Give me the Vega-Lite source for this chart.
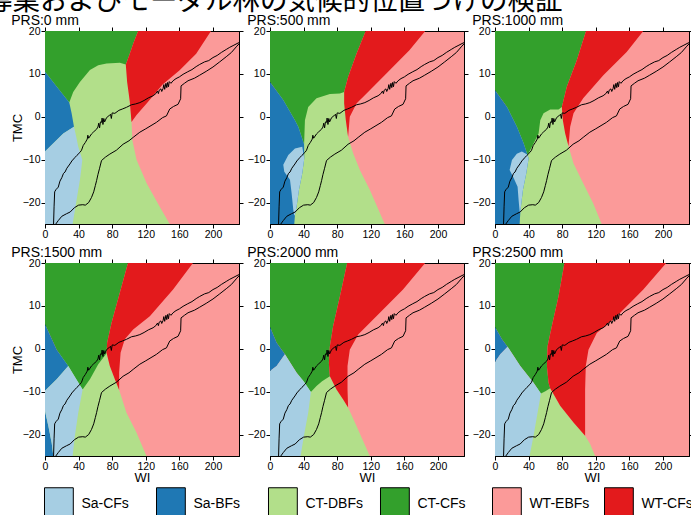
{
"$schema":"https://vega.github.io/schema/vega-lite/v6.json",
"padding":{"left":-15,"top":-12,"right":0,"bottom":0},
"background":"white",
"title":{"text":"導業およびモーダル林の気候的位置づけの検証","font":"Noto Sans CJK JP","fontSize":27.5,"fontWeight":"normal","anchor":"start","frame":"group","dx":-60,"offset":-24.6,"baseline":"alphabetic","color":"black"},
"datasets":{
"reg":[
{"p":0,"c":"CT-DBFs","g":0,"x":-5,"y":13.5},{"p":0,"c":"CT-DBFs","g":0,"x":97,"y":13.5},{"p":0,"c":"CT-DBFs","g":0,"x":100,"y":5},{"p":0,"c":"CT-DBFs","g":0,"x":103,"y":-0.8},{"p":0,"c":"CT-DBFs","g":0,"x":104,"y":-5.4},{"p":0,"c":"CT-DBFs","g":0,"x":109,"y":-10},{"p":0,"c":"CT-DBFs","g":0,"x":121,"y":-15.5},{"p":0,"c":"CT-DBFs","g":0,"x":136.6,"y":-21},{"p":0,"c":"CT-DBFs","g":0,"x":148.5,"y":-25},{"p":0,"c":"CT-DBFs","g":0,"x":150,"y":-27},{"p":0,"c":"CT-DBFs","g":0,"x":-5,"y":-27},
{"p":0,"c":"CT-CFs","g":0,"x":-5,"y":21},{"p":0,"c":"CT-CFs","g":0,"x":112.9,"y":21},{"p":0,"c":"CT-CFs","g":0,"x":105,"y":17},{"p":0,"c":"CT-CFs","g":0,"x":100.2,"y":14.3},{"p":0,"c":"CT-CFs","g":0,"x":96.2,"y":12.2},{"p":0,"c":"CT-CFs","g":0,"x":89.1,"y":12.6},{"p":0,"c":"CT-CFs","g":0,"x":73.3,"y":12.4},{"p":0,"c":"CT-CFs","g":0,"x":63.4,"y":12},{"p":0,"c":"CT-CFs","g":0,"x":53.5,"y":10.9},{"p":0,"c":"CT-CFs","g":0,"x":41.6,"y":8.1},{"p":0,"c":"CT-CFs","g":0,"x":33.6,"y":5.8},{"p":0,"c":"CT-CFs","g":0,"x":28.9,"y":3.35},{"p":0,"c":"CT-CFs","g":0,"x":0,"y":10.5},{"p":0,"c":"CT-CFs","g":0,"x":-5,"y":10.5},
{"p":0,"c":"WT-CFs","g":0,"x":112.9,"y":21},{"p":0,"c":"WT-CFs","g":0,"x":201,"y":21},{"p":0,"c":"WT-CFs","g":0,"x":180,"y":14.7},{"p":0,"c":"WT-CFs","g":0,"x":160,"y":10.8},{"p":0,"c":"WT-CFs","g":0,"x":140,"y":7.5},{"p":0,"c":"WT-CFs","g":0,"x":121,"y":3.1},{"p":0,"c":"WT-CFs","g":0,"x":109,"y":0.4},{"p":0,"c":"WT-CFs","g":0,"x":103,"y":-1.2},{"p":0,"c":"WT-CFs","g":0,"x":101,"y":3.5},{"p":0,"c":"WT-CFs","g":0,"x":97.8,"y":8.1},{"p":0,"c":"WT-CFs","g":0,"x":96.2,"y":12.2},{"p":0,"c":"WT-CFs","g":0,"x":100.2,"y":14.3},{"p":0,"c":"WT-CFs","g":0,"x":105,"y":17},
{"p":0,"c":"Sa-BFs","g":0,"x":-5,"y":10.5},{"p":0,"c":"Sa-BFs","g":0,"x":0,"y":10.5},{"p":0,"c":"Sa-BFs","g":0,"x":28.9,"y":3.35},{"p":0,"c":"Sa-BFs","g":0,"x":31.7,"y":0.8},{"p":0,"c":"Sa-BFs","g":0,"x":34.5,"y":-2.3},{"p":0,"c":"Sa-BFs","g":0,"x":21.8,"y":-3.9},{"p":0,"c":"Sa-BFs","g":0,"x":0,"y":-8.1},{"p":0,"c":"Sa-BFs","g":0,"x":-5,"y":-8.1},
{"p":0,"c":"Sa-CFs","g":0,"x":-5,"y":-8.1},{"p":0,"c":"Sa-CFs","g":0,"x":0,"y":-8.1},{"p":0,"c":"Sa-CFs","g":0,"x":21.8,"y":-3.9},{"p":0,"c":"Sa-CFs","g":0,"x":34.5,"y":-2.3},{"p":0,"c":"Sa-CFs","g":0,"x":37,"y":-4.5},{"p":0,"c":"Sa-CFs","g":0,"x":39.6,"y":-7},{"p":0,"c":"Sa-CFs","g":0,"x":44.4,"y":-10},{"p":0,"c":"Sa-CFs","g":0,"x":43,"y":-12.5},{"p":0,"c":"Sa-CFs","g":0,"x":41.6,"y":-14.7},{"p":0,"c":"Sa-CFs","g":0,"x":37.6,"y":-19.4},{"p":0,"c":"Sa-CFs","g":0,"x":32.9,"y":-25},{"p":0,"c":"Sa-CFs","g":0,"x":32.5,"y":-27},{"p":0,"c":"Sa-CFs","g":0,"x":-5,"y":-27},

{"p":500,"c":"CT-DBFs","g":0,"x":-5,"y":6},{"p":500,"c":"CT-DBFs","g":0,"x":89,"y":6},{"p":500,"c":"CT-DBFs","g":0,"x":90.3,"y":-0.8},{"p":500,"c":"CT-DBFs","g":0,"x":93,"y":-4.65},{"p":500,"c":"CT-DBFs","g":0,"x":99,"y":-8.5},{"p":500,"c":"CT-DBFs","g":0,"x":107,"y":-12.4},{"p":500,"c":"CT-DBFs","g":0,"x":118.8,"y":-17},{"p":500,"c":"CT-DBFs","g":0,"x":136.6,"y":-25},{"p":500,"c":"CT-DBFs","g":0,"x":137,"y":-27},{"p":500,"c":"CT-DBFs","g":0,"x":-5,"y":-27},
{"p":500,"c":"CT-CFs","g":0,"x":-5,"y":21},{"p":500,"c":"CT-CFs","g":0,"x":116,"y":21},{"p":500,"c":"CT-CFs","g":0,"x":103,"y":14.7},{"p":500,"c":"CT-CFs","g":0,"x":93,"y":9.3},{"p":500,"c":"CT-CFs","g":0,"x":88.3,"y":5.8},{"p":500,"c":"CT-CFs","g":0,"x":83.2,"y":5.4},{"p":500,"c":"CT-CFs","g":0,"x":71.3,"y":5.3},{"p":500,"c":"CT-CFs","g":0,"x":55.4,"y":4.3},{"p":500,"c":"CT-CFs","g":0,"x":45.5,"y":2.3},{"p":500,"c":"CT-CFs","g":0,"x":41.6,"y":-0.8},{"p":500,"c":"CT-CFs","g":0,"x":40.6,"y":-6.4},{"p":500,"c":"CT-CFs","g":0,"x":33.7,"y":-2.3},{"p":500,"c":"CT-CFs","g":0,"x":29.7,"y":-0.8},{"p":500,"c":"CT-CFs","g":0,"x":15.8,"y":3.9},{"p":500,"c":"CT-CFs","g":0,"x":0,"y":8.1},{"p":500,"c":"CT-CFs","g":0,"x":-5,"y":8.1},
{"p":500,"c":"WT-CFs","g":0,"x":116,"y":21},{"p":500,"c":"WT-CFs","g":0,"x":189,"y":21},{"p":500,"c":"WT-CFs","g":0,"x":166,"y":15.5},{"p":500,"c":"WT-CFs","g":0,"x":138.6,"y":10.1},{"p":500,"c":"WT-CFs","g":0,"x":118.8,"y":6.2},{"p":500,"c":"WT-CFs","g":0,"x":103,"y":3.1},{"p":500,"c":"WT-CFs","g":0,"x":95,"y":0},{"p":500,"c":"WT-CFs","g":0,"x":93,"y":-4.65},{"p":500,"c":"WT-CFs","g":0,"x":90.3,"y":-0.8},{"p":500,"c":"WT-CFs","g":0,"x":88.3,"y":3.1},{"p":500,"c":"WT-CFs","g":0,"x":88.3,"y":5.8},{"p":500,"c":"WT-CFs","g":0,"x":93,"y":9.3},{"p":500,"c":"WT-CFs","g":0,"x":103,"y":14.7},
{"p":500,"c":"Sa-BFs","g":0,"x":-5,"y":8.5},{"p":500,"c":"Sa-BFs","g":0,"x":0,"y":8.1},{"p":500,"c":"Sa-BFs","g":0,"x":15.8,"y":3.9},{"p":500,"c":"Sa-BFs","g":0,"x":29.7,"y":-0.8},{"p":500,"c":"Sa-BFs","g":0,"x":33.7,"y":-2.3},{"p":500,"c":"Sa-BFs","g":0,"x":40.6,"y":-6.4},{"p":500,"c":"Sa-BFs","g":0,"x":40.8,"y":-9.7},{"p":500,"c":"Sa-BFs","g":0,"x":38.4,"y":-13.2},{"p":500,"c":"Sa-BFs","g":0,"x":34.5,"y":-17},{"p":500,"c":"Sa-BFs","g":0,"x":31.7,"y":-20.9},{"p":500,"c":"Sa-BFs","g":0,"x":29.7,"y":-22.9},{"p":500,"c":"Sa-BFs","g":0,"x":28.9,"y":-25},{"p":500,"c":"Sa-BFs","g":0,"x":28.9,"y":-27},{"p":500,"c":"Sa-BFs","g":0,"x":-5,"y":-27},
{"p":500,"c":"Sa-CFs","g":0,"x":38.4,"y":-7},{"p":500,"c":"Sa-CFs","g":0,"x":40.8,"y":-9.7},{"p":500,"c":"Sa-CFs","g":0,"x":38.4,"y":-13.2},{"p":500,"c":"Sa-CFs","g":0,"x":34.5,"y":-17},{"p":500,"c":"Sa-CFs","g":0,"x":31.7,"y":-20.9},{"p":500,"c":"Sa-CFs","g":0,"x":29.7,"y":-22.9},{"p":500,"c":"Sa-CFs","g":0,"x":28.9,"y":-23},{"p":500,"c":"Sa-CFs","g":0,"x":27.7,"y":-21.6},{"p":500,"c":"Sa-CFs","g":0,"x":25.7,"y":-17.8},{"p":500,"c":"Sa-CFs","g":0,"x":23.8,"y":-14.7},{"p":500,"c":"Sa-CFs","g":0,"x":17,"y":-12.8},{"p":500,"c":"Sa-CFs","g":0,"x":15.8,"y":-11.2},{"p":500,"c":"Sa-CFs","g":0,"x":21.8,"y":-8.9},{"p":500,"c":"Sa-CFs","g":0,"x":29.7,"y":-7.4},

{"p":1000,"c":"CT-DBFs","g":0,"x":-5,"y":2.5},{"p":1000,"c":"CT-DBFs","g":0,"x":80,"y":2.5},{"p":1000,"c":"CT-DBFs","g":0,"x":80.8,"y":-0.8},{"p":1000,"c":"CT-DBFs","g":0,"x":83.6,"y":-3.9},{"p":1000,"c":"CT-DBFs","g":0,"x":87.5,"y":-6.8},{"p":1000,"c":"CT-DBFs","g":0,"x":93.5,"y":-10.9},{"p":1000,"c":"CT-DBFs","g":0,"x":105,"y":-15.5},{"p":1000,"c":"CT-DBFs","g":0,"x":117,"y":-20.2},{"p":1000,"c":"CT-DBFs","g":0,"x":127,"y":-25},{"p":1000,"c":"CT-DBFs","g":0,"x":128,"y":-27},{"p":1000,"c":"CT-DBFs","g":0,"x":-5,"y":-27},
{"p":1000,"c":"CT-CFs","g":0,"x":-5,"y":21},{"p":1000,"c":"CT-CFs","g":0,"x":110,"y":21},{"p":1000,"c":"CT-CFs","g":0,"x":97.4,"y":13.2},{"p":1000,"c":"CT-CFs","g":0,"x":85.5,"y":7},{"p":1000,"c":"CT-CFs","g":0,"x":79.6,"y":2.3},{"p":1000,"c":"CT-CFs","g":0,"x":75.6,"y":1.7},{"p":1000,"c":"CT-CFs","g":0,"x":65.7,"y":1.7},{"p":1000,"c":"CT-CFs","g":0,"x":57.8,"y":0.8},{"p":1000,"c":"CT-CFs","g":0,"x":53.9,"y":-0.8},{"p":1000,"c":"CT-CFs","g":0,"x":51.9,"y":-3.9},{"p":1000,"c":"CT-CFs","g":0,"x":44,"y":-7},{"p":1000,"c":"CT-CFs","g":0,"x":38.8,"y":-8.9},{"p":1000,"c":"CT-CFs","g":0,"x":34.1,"y":-6.2},{"p":1000,"c":"CT-CFs","g":0,"x":26.1,"y":-2.3},{"p":1000,"c":"CT-CFs","g":0,"x":14.3,"y":2.3},{"p":1000,"c":"CT-CFs","g":0,"x":0,"y":6.2},{"p":1000,"c":"CT-CFs","g":0,"x":-5,"y":6.2},
{"p":1000,"c":"WT-CFs","g":0,"x":110,"y":21},{"p":1000,"c":"WT-CFs","g":0,"x":180.6,"y":21},{"p":1000,"c":"WT-CFs","g":0,"x":156.8,"y":15.1},{"p":1000,"c":"WT-CFs","g":0,"x":129,"y":9.7},{"p":1000,"c":"WT-CFs","g":0,"x":105,"y":4.3},{"p":1000,"c":"WT-CFs","g":0,"x":93.5,"y":0.8},{"p":1000,"c":"WT-CFs","g":0,"x":89.5,"y":-2.3},{"p":1000,"c":"WT-CFs","g":0,"x":87.5,"y":-6.8},{"p":1000,"c":"WT-CFs","g":0,"x":83.6,"y":-3.9},{"p":1000,"c":"WT-CFs","g":0,"x":80.8,"y":-0.8},{"p":1000,"c":"WT-CFs","g":0,"x":79.6,"y":2.3},{"p":1000,"c":"WT-CFs","g":0,"x":85.5,"y":7},{"p":1000,"c":"WT-CFs","g":0,"x":97.4,"y":13.2},
{"p":1000,"c":"Sa-BFs","g":0,"x":-5,"y":6.5},{"p":1000,"c":"Sa-BFs","g":0,"x":0,"y":6.2},{"p":1000,"c":"Sa-BFs","g":0,"x":14.3,"y":2.3},{"p":1000,"c":"Sa-BFs","g":0,"x":26.1,"y":-2.3},{"p":1000,"c":"Sa-BFs","g":0,"x":34.1,"y":-6.2},{"p":1000,"c":"Sa-BFs","g":0,"x":38.8,"y":-8.9},{"p":1000,"c":"Sa-BFs","g":0,"x":40,"y":-9.7},{"p":1000,"c":"Sa-BFs","g":0,"x":37.2,"y":-13.2},{"p":1000,"c":"Sa-BFs","g":0,"x":33.3,"y":-17},{"p":1000,"c":"Sa-BFs","g":0,"x":30.9,"y":-20.9},{"p":1000,"c":"Sa-BFs","g":0,"x":30.1,"y":-22.5},{"p":1000,"c":"Sa-BFs","g":0,"x":29.3,"y":-25},{"p":1000,"c":"Sa-BFs","g":0,"x":29.3,"y":-27},{"p":1000,"c":"Sa-BFs","g":0,"x":-5,"y":-27},
{"p":1000,"c":"Sa-CFs","g":0,"x":32,"y":-8.1},{"p":1000,"c":"Sa-CFs","g":0,"x":38.5,"y":-8.8},{"p":1000,"c":"Sa-CFs","g":0,"x":40,"y":-9.7},{"p":1000,"c":"Sa-CFs","g":0,"x":37.2,"y":-13.2},{"p":1000,"c":"Sa-CFs","g":0,"x":33.3,"y":-17},{"p":1000,"c":"Sa-CFs","g":0,"x":30.9,"y":-20.9},{"p":1000,"c":"Sa-CFs","g":0,"x":30.1,"y":-22.5},{"p":1000,"c":"Sa-CFs","g":0,"x":29.3,"y":-22},{"p":1000,"c":"Sa-CFs","g":0,"x":28.1,"y":-19.4},{"p":1000,"c":"Sa-CFs","g":0,"x":26.9,"y":-16.3},{"p":1000,"c":"Sa-CFs","g":0,"x":22.2,"y":-14.3},{"p":1000,"c":"Sa-CFs","g":0,"x":17.4,"y":-12.4},{"p":1000,"c":"Sa-CFs","g":0,"x":20.2,"y":-10.1},{"p":1000,"c":"Sa-CFs","g":0,"x":26,"y":-8.6},

{"p":1500,"c":"CT-DBFs","g":0,"x":-5,"y":-0.9},{"p":1500,"c":"CT-DBFs","g":0,"x":73.3,"y":-0.9},{"p":1500,"c":"CT-DBFs","g":0,"x":77.2,"y":-4},{"p":1500,"c":"CT-DBFs","g":0,"x":83.2,"y":-7.1},{"p":1500,"c":"CT-DBFs","g":0,"x":88.3,"y":-9.6},{"p":1500,"c":"CT-DBFs","g":0,"x":97,"y":-14.9},{"p":1500,"c":"CT-DBFs","g":0,"x":108.9,"y":-19.5},{"p":1500,"c":"CT-DBFs","g":0,"x":120.8,"y":-25},{"p":1500,"c":"CT-DBFs","g":0,"x":122,"y":-27},{"p":1500,"c":"CT-DBFs","g":0,"x":-5,"y":-27},
{"p":1500,"c":"CT-CFs","g":0,"x":-5,"y":21},{"p":1500,"c":"CT-CFs","g":0,"x":100.2,"y":21},{"p":1500,"c":"CT-CFs","g":0,"x":89,"y":13},{"p":1500,"c":"CT-CFs","g":0,"x":79.2,"y":6},{"p":1500,"c":"CT-CFs","g":0,"x":74,"y":1.4},{"p":1500,"c":"CT-CFs","g":0,"x":73.3,"y":-0.9},{"p":1500,"c":"CT-CFs","g":0,"x":72.5,"y":-1.3},{"p":1500,"c":"CT-CFs","g":0,"x":63.4,"y":-3.6},{"p":1500,"c":"CT-CFs","g":0,"x":53.5,"y":-7.1},{"p":1500,"c":"CT-CFs","g":0,"x":44.8,"y":-9.5},{"p":1500,"c":"CT-CFs","g":0,"x":36,"y":-6.7},{"p":1500,"c":"CT-CFs","g":0,"x":27.7,"y":-4},{"p":1500,"c":"CT-CFs","g":0,"x":13.9,"y":-0.2},{"p":1500,"c":"CT-CFs","g":0,"x":0,"y":5.7},{"p":1500,"c":"CT-CFs","g":0,"x":-5,"y":5.7},
{"p":1500,"c":"WT-CFs","g":0,"x":100.2,"y":21},{"p":1500,"c":"WT-CFs","g":0,"x":180,"y":21},{"p":1500,"c":"WT-CFs","g":0,"x":152.5,"y":13.8},{"p":1500,"c":"WT-CFs","g":0,"x":124.8,"y":7.6},{"p":1500,"c":"WT-CFs","g":0,"x":105,"y":4.5},{"p":1500,"c":"WT-CFs","g":0,"x":95,"y":2.2},{"p":1500,"c":"WT-CFs","g":0,"x":90,"y":-0.9},{"p":1500,"c":"WT-CFs","g":0,"x":88.3,"y":-5.5},{"p":1500,"c":"WT-CFs","g":0,"x":88.3,"y":-9.6},{"p":1500,"c":"WT-CFs","g":0,"x":83.2,"y":-7.1},{"p":1500,"c":"WT-CFs","g":0,"x":77.2,"y":-4},{"p":1500,"c":"WT-CFs","g":0,"x":73.3,"y":-0.9},{"p":1500,"c":"WT-CFs","g":0,"x":74,"y":1.4},{"p":1500,"c":"WT-CFs","g":0,"x":79.2,"y":6},{"p":1500,"c":"WT-CFs","g":0,"x":89,"y":13},
{"p":1500,"c":"Sa-BFs","g":0,"x":-5,"y":5.7},{"p":1500,"c":"Sa-BFs","g":0,"x":0,"y":5.7},{"p":1500,"c":"Sa-BFs","g":0,"x":13.9,"y":-0.2},{"p":1500,"c":"Sa-BFs","g":0,"x":27.7,"y":-4},{"p":1500,"c":"Sa-BFs","g":0,"x":13.9,"y":-7.1},{"p":1500,"c":"Sa-BFs","g":0,"x":0,"y":-9.8},{"p":1500,"c":"Sa-BFs","g":0,"x":-5,"y":-9.8},
{"p":1500,"c":"Sa-BFs","g":1,"x":-5,"y":-14.5},{"p":1500,"c":"Sa-BFs","g":1,"x":0,"y":-14.5},{"p":1500,"c":"Sa-BFs","g":1,"x":4,"y":-18},{"p":1500,"c":"Sa-BFs","g":1,"x":7.9,"y":-21.9},{"p":1500,"c":"Sa-BFs","g":1,"x":9.9,"y":-25},{"p":1500,"c":"Sa-BFs","g":1,"x":10,"y":-27},{"p":1500,"c":"Sa-BFs","g":1,"x":-5,"y":-27},
{"p":1500,"c":"Sa-CFs","g":0,"x":-5,"y":-9.8},{"p":1500,"c":"Sa-CFs","g":0,"x":0,"y":-9.8},{"p":1500,"c":"Sa-CFs","g":0,"x":13.9,"y":-7.1},{"p":1500,"c":"Sa-CFs","g":0,"x":27.7,"y":-4},{"p":1500,"c":"Sa-CFs","g":0,"x":36,"y":-6.7},{"p":1500,"c":"Sa-CFs","g":0,"x":44.8,"y":-9.5},{"p":1500,"c":"Sa-CFs","g":0,"x":39.6,"y":-14.9},{"p":1500,"c":"Sa-CFs","g":0,"x":35.6,"y":-20.3},{"p":1500,"c":"Sa-CFs","g":0,"x":32.9,"y":-25},{"p":1500,"c":"Sa-CFs","g":0,"x":32.5,"y":-27},{"p":1500,"c":"Sa-CFs","g":0,"x":10,"y":-27},{"p":1500,"c":"Sa-CFs","g":0,"x":9.9,"y":-25},{"p":1500,"c":"Sa-CFs","g":0,"x":7.9,"y":-21.9},{"p":1500,"c":"Sa-CFs","g":0,"x":4,"y":-18},{"p":1500,"c":"Sa-CFs","g":0,"x":0,"y":-14.5},{"p":1500,"c":"Sa-CFs","g":0,"x":-5,"y":-14.5},

{"p":2000,"c":"CT-DBFs","g":0,"x":-5,"y":-6.4},{"p":2000,"c":"CT-DBFs","g":0,"x":71.3,"y":-6.4},{"p":2000,"c":"CT-DBFs","g":0,"x":79.2,"y":-9.5},{"p":2000,"c":"CT-DBFs","g":0,"x":87.1,"y":-11.8},{"p":2000,"c":"CT-DBFs","g":0,"x":93,"y":-13.7},{"p":2000,"c":"CT-DBFs","g":0,"x":103,"y":-18},{"p":2000,"c":"CT-DBFs","g":0,"x":118.8,"y":-25},{"p":2000,"c":"CT-DBFs","g":0,"x":120,"y":-27},{"p":2000,"c":"CT-DBFs","g":0,"x":-5,"y":-27},
{"p":2000,"c":"CT-CFs","g":0,"x":-5,"y":21},{"p":2000,"c":"CT-CFs","g":0,"x":93,"y":21},{"p":2000,"c":"CT-CFs","g":0,"x":83.2,"y":12.2},{"p":2000,"c":"CT-CFs","g":0,"x":75.2,"y":5.3},{"p":2000,"c":"CT-CFs","g":0,"x":71.3,"y":0.6},{"p":2000,"c":"CT-CFs","g":0,"x":70.1,"y":-3.3},{"p":2000,"c":"CT-CFs","g":0,"x":71.3,"y":-6.4},{"p":2000,"c":"CT-CFs","g":0,"x":62,"y":-7.6},{"p":2000,"c":"CT-CFs","g":0,"x":55.4,"y":-8.7},{"p":2000,"c":"CT-CFs","g":0,"x":48.7,"y":-10.1},{"p":2000,"c":"CT-CFs","g":0,"x":40,"y":-7.6},{"p":2000,"c":"CT-CFs","g":0,"x":31.7,"y":-5.6},{"p":2000,"c":"CT-CFs","g":0,"x":17.8,"y":-1.3},{"p":2000,"c":"CT-CFs","g":0,"x":7.9,"y":1.4},{"p":2000,"c":"CT-CFs","g":0,"x":0,"y":5.1},{"p":2000,"c":"CT-CFs","g":0,"x":-5,"y":5.1},
{"p":2000,"c":"WT-CFs","g":0,"x":93,"y":21},{"p":2000,"c":"WT-CFs","g":0,"x":189,"y":21},{"p":2000,"c":"WT-CFs","g":0,"x":158.4,"y":13.8},{"p":2000,"c":"WT-CFs","g":0,"x":126.7,"y":7.6},{"p":2000,"c":"WT-CFs","g":0,"x":105,"y":3.3},{"p":2000,"c":"WT-CFs","g":0,"x":95,"y":-0.2},{"p":2000,"c":"WT-CFs","g":0,"x":92.3,"y":-4},{"p":2000,"c":"WT-CFs","g":0,"x":92.3,"y":-9.5},{"p":2000,"c":"WT-CFs","g":0,"x":93,"y":-13.7},{"p":2000,"c":"WT-CFs","g":0,"x":87.1,"y":-11.8},{"p":2000,"c":"WT-CFs","g":0,"x":79.2,"y":-9.5},{"p":2000,"c":"WT-CFs","g":0,"x":71.3,"y":-6.4},{"p":2000,"c":"WT-CFs","g":0,"x":70.1,"y":-3.3},{"p":2000,"c":"WT-CFs","g":0,"x":71.3,"y":0.6},{"p":2000,"c":"WT-CFs","g":0,"x":75.2,"y":5.3},{"p":2000,"c":"WT-CFs","g":0,"x":83.2,"y":12.2},
{"p":2000,"c":"Sa-BFs","g":0,"x":-5,"y":5.1},{"p":2000,"c":"Sa-BFs","g":0,"x":0,"y":5.1},{"p":2000,"c":"Sa-BFs","g":0,"x":7.9,"y":1.4},{"p":2000,"c":"Sa-BFs","g":0,"x":17.8,"y":-1.3},{"p":2000,"c":"Sa-BFs","g":0,"x":7.9,"y":-4},{"p":2000,"c":"Sa-BFs","g":0,"x":0,"y":-5.2},{"p":2000,"c":"Sa-BFs","g":0,"x":-5,"y":-5.2},
{"p":2000,"c":"Sa-CFs","g":0,"x":-5,"y":-5.2},{"p":2000,"c":"Sa-CFs","g":0,"x":0,"y":-5.2},{"p":2000,"c":"Sa-CFs","g":0,"x":7.9,"y":-4},{"p":2000,"c":"Sa-CFs","g":0,"x":17.8,"y":-1.3},{"p":2000,"c":"Sa-CFs","g":0,"x":31.7,"y":-5.6},{"p":2000,"c":"Sa-CFs","g":0,"x":40,"y":-7.6},{"p":2000,"c":"Sa-CFs","g":0,"x":48.7,"y":-10.1},{"p":2000,"c":"Sa-CFs","g":0,"x":45.5,"y":-14.9},{"p":2000,"c":"Sa-CFs","g":0,"x":40.4,"y":-20.3},{"p":2000,"c":"Sa-CFs","g":0,"x":36.4,"y":-25},{"p":2000,"c":"Sa-CFs","g":0,"x":36,"y":-27},{"p":2000,"c":"Sa-CFs","g":0,"x":-5,"y":-27},

{"p":2500,"c":"CT-DBFs","g":0,"x":-5,"y":-9},{"p":2500,"c":"CT-DBFs","g":0,"x":65.7,"y":-9.2},{"p":2500,"c":"CT-DBFs","g":0,"x":77.6,"y":-13.3},{"p":2500,"c":"CT-DBFs","g":0,"x":93.5,"y":-17.2},{"p":2500,"c":"CT-DBFs","g":0,"x":107.3,"y":-20.3},{"p":2500,"c":"CT-DBFs","g":0,"x":113.3,"y":-22.2},{"p":2500,"c":"CT-DBFs","g":0,"x":119.2,"y":-25},{"p":2500,"c":"CT-DBFs","g":0,"x":120,"y":-27},{"p":2500,"c":"CT-DBFs","g":0,"x":-5,"y":-27},
{"p":2500,"c":"CT-CFs","g":0,"x":-5,"y":21},{"p":2500,"c":"CT-CFs","g":0,"x":83.6,"y":21},{"p":2500,"c":"CT-CFs","g":0,"x":75.6,"y":12.2},{"p":2500,"c":"CT-CFs","g":0,"x":67.7,"y":5.3},{"p":2500,"c":"CT-CFs","g":0,"x":62.6,"y":0.6},{"p":2500,"c":"CT-CFs","g":0,"x":61.8,"y":-4},{"p":2500,"c":"CT-CFs","g":0,"x":63.8,"y":-7.9},{"p":2500,"c":"CT-CFs","g":0,"x":65.7,"y":-9.2},{"p":2500,"c":"CT-CFs","g":0,"x":60,"y":-9.9},{"p":2500,"c":"CT-CFs","g":0,"x":54.7,"y":-10.4},{"p":2500,"c":"CT-CFs","g":0,"x":45.9,"y":-7.9},{"p":2500,"c":"CT-CFs","g":0,"x":30.1,"y":-4},{"p":2500,"c":"CT-CFs","g":0,"x":15,"y":0.5},{"p":2500,"c":"CT-CFs","g":0,"x":8.3,"y":2.2},{"p":2500,"c":"CT-CFs","g":0,"x":0,"y":5.1},{"p":2500,"c":"CT-CFs","g":0,"x":-5,"y":5.1},
{"p":2500,"c":"WT-CFs","g":0,"x":83.6,"y":21},{"p":2500,"c":"WT-CFs","g":0,"x":208.3,"y":21},{"p":2500,"c":"WT-CFs","g":0,"x":176.6,"y":13.8},{"p":2500,"c":"WT-CFs","g":0,"x":145,"y":7.6},{"p":2500,"c":"WT-CFs","g":0,"x":121.2,"y":3.7},{"p":2500,"c":"WT-CFs","g":0,"x":111.3,"y":-0.2},{"p":2500,"c":"WT-CFs","g":0,"x":108.1,"y":-4},{"p":2500,"c":"WT-CFs","g":0,"x":107.3,"y":-9.5},{"p":2500,"c":"WT-CFs","g":0,"x":107.3,"y":-20.3},{"p":2500,"c":"WT-CFs","g":0,"x":93.5,"y":-17.2},{"p":2500,"c":"WT-CFs","g":0,"x":77.6,"y":-13.3},{"p":2500,"c":"WT-CFs","g":0,"x":65.7,"y":-9.2},{"p":2500,"c":"WT-CFs","g":0,"x":63.8,"y":-7.9},{"p":2500,"c":"WT-CFs","g":0,"x":61.8,"y":-4},{"p":2500,"c":"WT-CFs","g":0,"x":62.6,"y":0.6},{"p":2500,"c":"WT-CFs","g":0,"x":67.7,"y":5.3},{"p":2500,"c":"WT-CFs","g":0,"x":75.6,"y":12.2},
{"p":2500,"c":"Sa-BFs","g":0,"x":-5,"y":5.1},{"p":2500,"c":"Sa-BFs","g":0,"x":0,"y":5.1},{"p":2500,"c":"Sa-BFs","g":0,"x":8.3,"y":2.2},{"p":2500,"c":"Sa-BFs","g":0,"x":15,"y":0.5},{"p":2500,"c":"Sa-BFs","g":0,"x":6.3,"y":-1.3},{"p":2500,"c":"Sa-BFs","g":0,"x":0,"y":-3.1},{"p":2500,"c":"Sa-BFs","g":0,"x":-5,"y":-3.1},
{"p":2500,"c":"Sa-CFs","g":0,"x":-5,"y":-3.1},{"p":2500,"c":"Sa-CFs","g":0,"x":0,"y":-3.1},{"p":2500,"c":"Sa-CFs","g":0,"x":6.3,"y":-1.3},{"p":2500,"c":"Sa-CFs","g":0,"x":15,"y":0.5},{"p":2500,"c":"Sa-CFs","g":0,"x":30.1,"y":-4},{"p":2500,"c":"Sa-CFs","g":0,"x":45.9,"y":-7.9},{"p":2500,"c":"Sa-CFs","g":0,"x":54.7,"y":-10.4},{"p":2500,"c":"Sa-CFs","g":0,"x":50.7,"y":-14.9},{"p":2500,"c":"Sa-CFs","g":0,"x":45.9,"y":-20.3},{"p":2500,"c":"Sa-CFs","g":0,"x":41.2,"y":-25},{"p":2500,"c":"Sa-CFs","g":0,"x":41,"y":-27},{"p":2500,"c":"Sa-CFs","g":0,"x":-5,"y":-27}
],
"cv":[
{"x":10,"y":-27},{"x":10.2,"y":-25},{"x":10.8,"y":-21},{"x":11.5,"y":-17.5},{"x":13,"y":-17},{"x":15.8,"y":-16.4},{"x":17.8,"y":-15},{"x":20,"y":-14.2},{"x":22,"y":-13.2},{"x":23.8,"y":-12.9},{"x":26,"y":-12},{"x":29.7,"y":-11},{"x":32,"y":-10.3},{"x":35.6,"y":-9.5},{"x":38,"y":-9},{"x":41.6,"y":-8.3},{"x":43.5,"y":-7.8},{"x":45.5,"y":-6.7},{"x":48,"y":-6},{"x":50.3,"y":-5.2},{"x":51,"y":-4.3},{"x":52,"y":-5},{"x":55.4,"y":-4},{"x":58,"y":-3.5},{"x":61.4,"y":-2.9},{"x":63,"y":-2.4},{"x":64,"y":-1.5},{"x":65,"y":-2.6},{"x":66,"y":-1.2},{"x":67.3,"y":-1.3},{"x":68,"y":-0.3},{"x":69,"y":-1.8},{"x":70,"y":-0.4},{"x":71,"y":-1.2},{"x":73.3,"y":-0.2},{"x":76,"y":0.2},{"x":78,"y":0.6},{"x":79,"y":-0.4},{"x":80,"y":0.9},{"x":83.2,"y":0.8},{"x":88,"y":1.5},{"x":92,"y":1.8},{"x":97,"y":2.2},{"x":103,"y":2.8},{"x":108,"y":3},{"x":112.9,"y":3.3},{"x":118,"y":3.8},{"x":123,"y":4.4},{"x":128.7,"y":4.9},{"x":132,"y":5.4},{"x":134,"y":6},{"x":135,"y":5.4},{"x":136,"y":6.2},{"x":138,"y":6.5},{"x":139,"y":5.9},{"x":140.6,"y":6.6},{"x":141.5,"y":7.5},{"x":142.5,"y":6.4},{"x":144,"y":7.8},{"x":145,"y":6.8},{"x":146,"y":8},{"x":147,"y":7},{"x":148,"y":8.2},{"x":150,"y":7.8},{"x":152.5,"y":8.4},{"x":156,"y":8.9},{"x":160,"y":9.3},{"x":164.4,"y":9.9},{"x":170,"y":10.5},{"x":175,"y":11},{"x":180,"y":11.7},{"x":184.2,"y":12.2},{"x":190,"y":12.8},{"x":195,"y":13.1},{"x":200,"y":13.8},{"x":205,"y":14.3},{"x":210,"y":15},{"x":215.8,"y":15.7},{"x":220,"y":16.2},{"x":225,"y":16.7},{"x":230.9,"y":17.3},{"x":233,"y":17.5},
{"x":231,"y":17},{"x":227.7,"y":16.3},{"x":222,"y":15},{"x":215.8,"y":14},{"x":208,"y":12.8},{"x":200,"y":11.6},{"x":192,"y":10.6},{"x":184.2,"y":9.7},{"x":178,"y":9},{"x":170.3,"y":8.4},{"x":166,"y":7.8},{"x":162,"y":7.2},{"x":161.5,"y":4.2},{"x":158.4,"y":2.9},{"x":153,"y":2.4},{"x":148.5,"y":1.8},{"x":144.6,"y":0.2},{"x":140,"y":-0.2},{"x":132.7,"y":-1.3},{"x":120,"y":-2.8},{"x":112.9,"y":-3.6},{"x":105,"y":-4.8},{"x":100,"y":-5.6},{"x":93,"y":-6.4},{"x":85,"y":-7.8},{"x":77.2,"y":-8.7},{"x":72,"y":-9.4},{"x":67.3,"y":-10.2},{"x":65,"y":-12},{"x":63,"y":-13.5},{"x":61.4,"y":-14.9},{"x":60,"y":-16},{"x":58,"y":-17.5},{"x":55.4,"y":-18.8},{"x":52,"y":-20},{"x":48,"y":-20.6},{"x":45,"y":-20.5},{"x":40,"y":-20.6},{"x":35,"y":-21.2},{"x":30,"y":-22.2},{"x":25.7,"y":-22.6},{"x":20,"y":-23.2},{"x":15.8,"y":-24.2},{"x":11,"y":-25.5},{"x":10.5,"y":-27}
]
},
"columns":3,
"spacing":{"row":39,"column":31},
"bounds":"flush",
"resolve":{"scale":{"color":"shared"},"legend":{"color":"shared"}},
"concat":[
{"width":194,"height":193,"title":{"text":"PRS:0 mm"},"layer":[
{"data":{"name":"reg"},
"encoding":{"x":{"field":"x","type":"quantitative","scale":{"domain":[0,231],"nice":false,"zero":false},"axis":{"orient":"bottom","values":[0,40,80,120,160,200],"title":null}},"y":{"field":"y","type":"quantitative","scale":{"domain":[-25,20],"nice":false,"zero":false},"axis":{"orient":"left","values":[-20,-10,0,10,20],"title":"TMC"}},"color":{"field":"c","type":"nominal","scale":{"domain":["Sa-CFs","Sa-BFs","CT-DBFs","CT-CFs","WT-EBFs","WT-CFs"],"range":["#a6cee3","#1f78b4","#b2df8a","#33a02c","#fb9a99","#e31a1c"]},"legend":{"orient":"none","legendX":-2.6,"legendY":456,"direction":"horizontal","columns":6,"title":null,"symbolType":"M-0.9,-1H0.9V1H-0.9Z","symbolSize":1024,"symbolStrokeColor":"black","symbolStrokeWidth":1,"gridAlign":"all","columnPadding":13,"labelFontSize":14,"labelOffset":6}},"detail":{"field":"g","type":"nominal"},"order":{"value":null}},
"layer":[
{"transform":[{"filter":"datum.p==0 && datum.c=='CT-DBFs'"}],"mark":{"type":"line","filled":true,"clip":true}},
{"transform":[{"filter":"datum.p==0 && datum.c=='CT-CFs'"}],"mark":{"type":"line","filled":true,"clip":true}},
{"transform":[{"filter":"datum.p==0 && datum.c=='WT-CFs'"}],"mark":{"type":"line","filled":true,"clip":true}},
{"transform":[{"filter":"datum.p==0 && datum.c=='Sa-BFs'"}],"mark":{"type":"line","filled":true,"clip":true}},
{"transform":[{"filter":"datum.p==0 && datum.c=='Sa-CFs'"}],"mark":{"type":"line","filled":true,"clip":true}}
]},
{"data":{"name":"cv"},"mark":{"type":"line","clip":true,"strokeWidth":1},"encoding":{"color":{"value":"black"},"order":{"value":null},"x":{"field":"x","type":"quantitative","scale":{"domain":[0,231],"nice":false,"zero":false},"axis":{"orient":"top","labels":false,"title":null,"values":[0,40,80,120,160,200]}},"y":{"field":"y","type":"quantitative","scale":{"domain":[-25,20],"nice":false,"zero":false},"axis":{"orient":"right","labels":false,"title":null,"values":[-20,-10,0,10,20]}}}}
]},
{"width":194,"height":193,"title":{"text":"PRS:500 mm"},"layer":[
{"data":{"name":"reg"},
"encoding":{"x":{"field":"x","type":"quantitative","scale":{"domain":[0,231],"nice":false,"zero":false},"axis":{"orient":"bottom","values":[0,40,80,120,160,200],"title":null}},"y":{"field":"y","type":"quantitative","scale":{"domain":[-25,20],"nice":false,"zero":false},"axis":{"orient":"left","values":[-20,-10,0,10,20],"title":null}},"color":{"field":"c","type":"nominal","scale":{"domain":["Sa-CFs","Sa-BFs","CT-DBFs","CT-CFs","WT-EBFs","WT-CFs"],"range":["#a6cee3","#1f78b4","#b2df8a","#33a02c","#fb9a99","#e31a1c"]},"legend":{"orient":"none","legendX":-2.6,"legendY":456,"direction":"horizontal","columns":6,"title":null,"symbolType":"M-0.9,-1H0.9V1H-0.9Z","symbolSize":1024,"symbolStrokeColor":"black","symbolStrokeWidth":1,"gridAlign":"all","columnPadding":13,"labelFontSize":14,"labelOffset":6}},"detail":{"field":"g","type":"nominal"},"order":{"value":null}},
"layer":[
{"transform":[{"filter":"datum.p==500 && datum.c=='CT-DBFs'"}],"mark":{"type":"line","filled":true,"clip":true}},
{"transform":[{"filter":"datum.p==500 && datum.c=='CT-CFs'"}],"mark":{"type":"line","filled":true,"clip":true}},
{"transform":[{"filter":"datum.p==500 && datum.c=='WT-CFs'"}],"mark":{"type":"line","filled":true,"clip":true}},
{"transform":[{"filter":"datum.p==500 && datum.c=='Sa-BFs'"}],"mark":{"type":"line","filled":true,"clip":true}},
{"transform":[{"filter":"datum.p==500 && datum.c=='Sa-CFs'"}],"mark":{"type":"line","filled":true,"clip":true}}
]},
{"data":{"name":"cv"},"mark":{"type":"line","clip":true,"strokeWidth":1},"encoding":{"color":{"value":"black"},"order":{"value":null},"x":{"field":"x","type":"quantitative","scale":{"domain":[0,231],"nice":false,"zero":false},"axis":{"orient":"top","labels":false,"title":null,"values":[0,40,80,120,160,200]}},"y":{"field":"y","type":"quantitative","scale":{"domain":[-25,20],"nice":false,"zero":false},"axis":{"orient":"right","labels":false,"title":null,"values":[-20,-10,0,10,20]}}}}
]},
{"width":194,"height":193,"title":{"text":"PRS:1000 mm"},"layer":[
{"data":{"name":"reg"},
"encoding":{"x":{"field":"x","type":"quantitative","scale":{"domain":[0,231],"nice":false,"zero":false},"axis":{"orient":"bottom","values":[0,40,80,120,160,200],"title":null}},"y":{"field":"y","type":"quantitative","scale":{"domain":[-25,20],"nice":false,"zero":false},"axis":{"orient":"left","values":[-20,-10,0,10,20],"title":null}},"color":{"field":"c","type":"nominal","scale":{"domain":["Sa-CFs","Sa-BFs","CT-DBFs","CT-CFs","WT-EBFs","WT-CFs"],"range":["#a6cee3","#1f78b4","#b2df8a","#33a02c","#fb9a99","#e31a1c"]},"legend":{"orient":"none","legendX":-2.6,"legendY":456,"direction":"horizontal","columns":6,"title":null,"symbolType":"M-0.9,-1H0.9V1H-0.9Z","symbolSize":1024,"symbolStrokeColor":"black","symbolStrokeWidth":1,"gridAlign":"all","columnPadding":13,"labelFontSize":14,"labelOffset":6}},"detail":{"field":"g","type":"nominal"},"order":{"value":null}},
"layer":[
{"transform":[{"filter":"datum.p==1000 && datum.c=='CT-DBFs'"}],"mark":{"type":"line","filled":true,"clip":true}},
{"transform":[{"filter":"datum.p==1000 && datum.c=='CT-CFs'"}],"mark":{"type":"line","filled":true,"clip":true}},
{"transform":[{"filter":"datum.p==1000 && datum.c=='WT-CFs'"}],"mark":{"type":"line","filled":true,"clip":true}},
{"transform":[{"filter":"datum.p==1000 && datum.c=='Sa-BFs'"}],"mark":{"type":"line","filled":true,"clip":true}},
{"transform":[{"filter":"datum.p==1000 && datum.c=='Sa-CFs'"}],"mark":{"type":"line","filled":true,"clip":true}}
]},
{"data":{"name":"cv"},"mark":{"type":"line","clip":true,"strokeWidth":1},"encoding":{"color":{"value":"black"},"order":{"value":null},"x":{"field":"x","type":"quantitative","scale":{"domain":[0,231],"nice":false,"zero":false},"axis":{"orient":"top","labels":false,"title":null,"values":[0,40,80,120,160,200]}},"y":{"field":"y","type":"quantitative","scale":{"domain":[-25,20],"nice":false,"zero":false},"axis":{"orient":"right","labels":false,"title":null,"values":[-20,-10,0,10,20]}}}}
]},
{"width":194,"height":193,"title":{"text":"PRS:1500 mm"},"layer":[
{"data":{"name":"reg"},
"encoding":{"x":{"field":"x","type":"quantitative","scale":{"domain":[0,231],"nice":false,"zero":false},"axis":{"orient":"bottom","values":[0,40,80,120,160,200],"title":"WI"}},"y":{"field":"y","type":"quantitative","scale":{"domain":[-25,20],"nice":false,"zero":false},"axis":{"orient":"left","values":[-20,-10,0,10,20],"title":"TMC"}},"color":{"field":"c","type":"nominal","scale":{"domain":["Sa-CFs","Sa-BFs","CT-DBFs","CT-CFs","WT-EBFs","WT-CFs"],"range":["#a6cee3","#1f78b4","#b2df8a","#33a02c","#fb9a99","#e31a1c"]},"legend":{"orient":"none","legendX":-2.6,"legendY":456,"direction":"horizontal","columns":6,"title":null,"symbolType":"M-0.9,-1H0.9V1H-0.9Z","symbolSize":1024,"symbolStrokeColor":"black","symbolStrokeWidth":1,"gridAlign":"all","columnPadding":13,"labelFontSize":14,"labelOffset":6}},"detail":{"field":"g","type":"nominal"},"order":{"value":null}},
"layer":[
{"transform":[{"filter":"datum.p==1500 && datum.c=='CT-DBFs'"}],"mark":{"type":"line","filled":true,"clip":true}},
{"transform":[{"filter":"datum.p==1500 && datum.c=='CT-CFs'"}],"mark":{"type":"line","filled":true,"clip":true}},
{"transform":[{"filter":"datum.p==1500 && datum.c=='WT-CFs'"}],"mark":{"type":"line","filled":true,"clip":true}},
{"transform":[{"filter":"datum.p==1500 && datum.c=='Sa-BFs'"}],"mark":{"type":"line","filled":true,"clip":true}},
{"transform":[{"filter":"datum.p==1500 && datum.c=='Sa-CFs'"}],"mark":{"type":"line","filled":true,"clip":true}}
]},
{"data":{"name":"cv"},"mark":{"type":"line","clip":true,"strokeWidth":1},"encoding":{"color":{"value":"black"},"order":{"value":null},"x":{"field":"x","type":"quantitative","scale":{"domain":[0,231],"nice":false,"zero":false},"axis":{"orient":"top","labels":false,"title":null,"values":[0,40,80,120,160,200]}},"y":{"field":"y","type":"quantitative","scale":{"domain":[-25,20],"nice":false,"zero":false},"axis":{"orient":"right","labels":false,"title":null,"values":[-20,-10,0,10,20]}}}}
]},
{"width":194,"height":193,"title":{"text":"PRS:2000 mm"},"layer":[
{"data":{"name":"reg"},
"encoding":{"x":{"field":"x","type":"quantitative","scale":{"domain":[0,231],"nice":false,"zero":false},"axis":{"orient":"bottom","values":[0,40,80,120,160,200],"title":"WI"}},"y":{"field":"y","type":"quantitative","scale":{"domain":[-25,20],"nice":false,"zero":false},"axis":{"orient":"left","values":[-20,-10,0,10,20],"title":null}},"color":{"field":"c","type":"nominal","scale":{"domain":["Sa-CFs","Sa-BFs","CT-DBFs","CT-CFs","WT-EBFs","WT-CFs"],"range":["#a6cee3","#1f78b4","#b2df8a","#33a02c","#fb9a99","#e31a1c"]},"legend":{"orient":"none","legendX":-2.6,"legendY":456,"direction":"horizontal","columns":6,"title":null,"symbolType":"M-0.9,-1H0.9V1H-0.9Z","symbolSize":1024,"symbolStrokeColor":"black","symbolStrokeWidth":1,"gridAlign":"all","columnPadding":13,"labelFontSize":14,"labelOffset":6}},"detail":{"field":"g","type":"nominal"},"order":{"value":null}},
"layer":[
{"transform":[{"filter":"datum.p==2000 && datum.c=='CT-DBFs'"}],"mark":{"type":"line","filled":true,"clip":true}},
{"transform":[{"filter":"datum.p==2000 && datum.c=='CT-CFs'"}],"mark":{"type":"line","filled":true,"clip":true}},
{"transform":[{"filter":"datum.p==2000 && datum.c=='WT-CFs'"}],"mark":{"type":"line","filled":true,"clip":true}},
{"transform":[{"filter":"datum.p==2000 && datum.c=='Sa-BFs'"}],"mark":{"type":"line","filled":true,"clip":true}},
{"transform":[{"filter":"datum.p==2000 && datum.c=='Sa-CFs'"}],"mark":{"type":"line","filled":true,"clip":true}}
]},
{"data":{"name":"cv"},"mark":{"type":"line","clip":true,"strokeWidth":1},"encoding":{"color":{"value":"black"},"order":{"value":null},"x":{"field":"x","type":"quantitative","scale":{"domain":[0,231],"nice":false,"zero":false},"axis":{"orient":"top","labels":false,"title":null,"values":[0,40,80,120,160,200]}},"y":{"field":"y","type":"quantitative","scale":{"domain":[-25,20],"nice":false,"zero":false},"axis":{"orient":"right","labels":false,"title":null,"values":[-20,-10,0,10,20]}}}}
]},
{"width":194,"height":193,"title":{"text":"PRS:2500 mm"},"layer":[
{"data":{"name":"reg"},
"encoding":{"x":{"field":"x","type":"quantitative","scale":{"domain":[0,231],"nice":false,"zero":false},"axis":{"orient":"bottom","values":[0,40,80,120,160,200],"title":"WI"}},"y":{"field":"y","type":"quantitative","scale":{"domain":[-25,20],"nice":false,"zero":false},"axis":{"orient":"left","values":[-20,-10,0,10,20],"title":null}},"color":{"field":"c","type":"nominal","scale":{"domain":["Sa-CFs","Sa-BFs","CT-DBFs","CT-CFs","WT-EBFs","WT-CFs"],"range":["#a6cee3","#1f78b4","#b2df8a","#33a02c","#fb9a99","#e31a1c"]},"legend":{"orient":"none","legendX":-2.6,"legendY":456,"direction":"horizontal","columns":6,"title":null,"symbolType":"M-0.9,-1H0.9V1H-0.9Z","symbolSize":1024,"symbolStrokeColor":"black","symbolStrokeWidth":1,"gridAlign":"all","columnPadding":13,"labelFontSize":14,"labelOffset":6}},"detail":{"field":"g","type":"nominal"},"order":{"value":null}},
"layer":[
{"transform":[{"filter":"datum.p==2500 && datum.c=='CT-DBFs'"}],"mark":{"type":"line","filled":true,"clip":true}},
{"transform":[{"filter":"datum.p==2500 && datum.c=='CT-CFs'"}],"mark":{"type":"line","filled":true,"clip":true}},
{"transform":[{"filter":"datum.p==2500 && datum.c=='WT-CFs'"}],"mark":{"type":"line","filled":true,"clip":true}},
{"transform":[{"filter":"datum.p==2500 && datum.c=='Sa-BFs'"}],"mark":{"type":"line","filled":true,"clip":true}},
{"transform":[{"filter":"datum.p==2500 && datum.c=='Sa-CFs'"}],"mark":{"type":"line","filled":true,"clip":true}}
]},
{"data":{"name":"cv"},"mark":{"type":"line","clip":true,"strokeWidth":1},"encoding":{"color":{"value":"black"},"order":{"value":null},"x":{"field":"x","type":"quantitative","scale":{"domain":[0,231],"nice":false,"zero":false},"axis":{"orient":"top","labels":false,"title":null,"values":[0,40,80,120,160,200]}},"y":{"field":"y","type":"quantitative","scale":{"domain":[-25,20],"nice":false,"zero":false},"axis":{"orient":"right","labels":false,"title":null,"values":[-20,-10,0,10,20]}}}}
]}
],
"config":{
"font":"Liberation Sans",
"view":{"fill":"#fb9a99","stroke":"black","strokeWidth":1},
"axis":{"domainColor":"black","domainWidth":1,"tickColor":"black","tickWidth":1,"tickSize":4,"labelColor":"black","labelFontSize":10.5,"labelFont":"Liberation Sans","labelPadding":1,"labelOverlap":false,"titleFont":"Liberation Sans","titleFontSize":13,"titleFontWeight":"normal","titleColor":"black","titlePadding":3,"grid":false,"labelFlush":false,"zindex":1},
"axisX":{"titlePadding":0},
"axisY":{"titlePadding":-2},
"title":{"fontSize":14,"fontWeight":"normal","anchor":"start","offset":-1.5,"baseline":"alphabetic","color":"black","font":"Liberation Sans"},
"legend":{"labelColor":"black","labelFont":"Liberation Sans","padding":0,"symbolOpacity":1}
}
}
